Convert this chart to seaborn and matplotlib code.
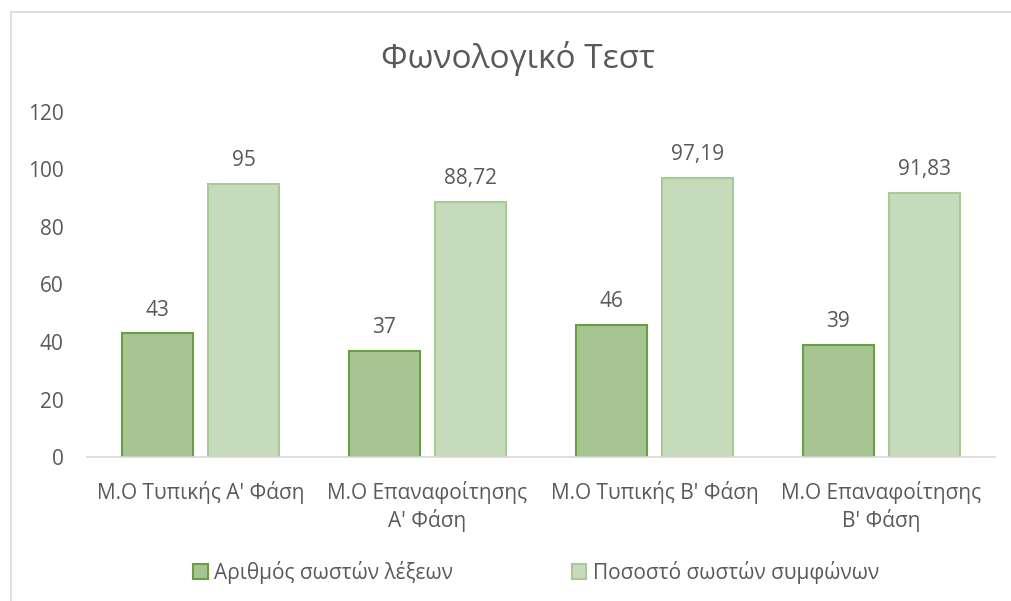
import matplotlib
matplotlib.use("Agg")
import matplotlib.pyplot as plt
import matplotlib.patches as mpatches
import seaborn as sns
import pandas as pd

categories = ["M.O Τυπικής Α' Φάση", "M.O Επαναφοίτησης\nΑ' Φάση",
              "M.O Τυπικής Β' Φάση", "M.O Επαναφοίτησης\nΒ' Φάση"]
series_names = ["Αριθμός σωστών λέξεων", "Ποσοστό σωστών συμφώνων"]
words = [43, 37, 46, 39]
consonants = [95, 88.72, 97.19, 91.83]
yticks = [0, 20, 40, 60, 80, 100, 120]
title = "Φωνολογικό Τεστ"

df = pd.DataFrame({
    "cat": categories * 2,
    "series": [series_names[0]] * 4 + [series_names[1]] * 4,
    "value": words + consonants,
})

sns.set_theme(style="white")
plt.rcParams["font.family"] = ["Open Sans", "DejaVu Sans"]

gray = "#595959"
fills = ["#a6c593", "#c6dbbc"]
edges = ["#6a9e45", "#a8cb96"]

fig = plt.figure(figsize=(10.11, 6.01), dpi=100)
ax = fig.add_axes([87 / 1011, 1 - 457 / 601, (995 - 87) / 1011, (457 - 112) / 601])

sns.barplot(data=df, x="cat", y="value", hue="series", hue_order=series_names,
            palette=fills, saturation=1, width=0.76, gap=0.17, ax=ax, legend=False)

for i, cont in enumerate(ax.containers):
    for p in cont:
        p.set_edgecolor(edges[i])
        p.set_linewidth(1.5)
    vals = words if i == 0 else consonants
    labels = [("%g" % v).replace(".", ",") for v in vals]
    ax.bar_label(cont, labels=labels, padding=9, color=gray, fontsize=15)

ax.set_ylim(0, 120)
ax.set_yticks(yticks)
ax.set_xlabel("")
ax.set_ylabel("")
for s in ["top", "right", "left"]:
    ax.spines[s].set_visible(False)
ax.spines["bottom"].set_color("#d9d9d9")
ax.spines["bottom"].set_linewidth(1.2)
ax.tick_params(axis="both", length=0, colors=gray, labelsize=15)
ax.tick_params(axis="y", pad=17)
ax.tick_params(axis="x", pad=17)
for t in ax.get_xticklabels():
    t.set_linespacing(1.3)
ax.grid(False)

fig.text(518 / 1011, 1 - 58 / 601, title, ha="center", va="center", fontsize=24, color=gray)

handles = [mpatches.Patch(facecolor=fills[i], edgecolor=edges[i], linewidth=1.5,
                          label=series_names[i]) for i in range(2)]
fig.legend(handles=handles, loc="center", bbox_to_anchor=(536 / 1011, 1 - 572 / 601),
           ncol=2, frameon=False, fontsize=15, labelcolor=gray,
           handlelength=0.7, handleheight=0.7, handletextpad=0.3, columnspacing=5.7)

border = mpatches.Rectangle((11 / 1011, -0.05), 1.1, 1 - 12 / 601 + 0.05,
                            transform=fig.transFigure, fill=False,
                            edgecolor="#d9d9d9", linewidth=1.2, clip_on=False)
fig.patches.append(border)

fig.savefig("out.png", dpi=100)
